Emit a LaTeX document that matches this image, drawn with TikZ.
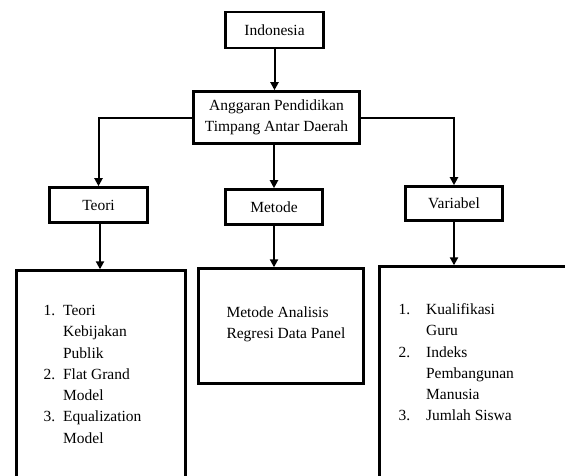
\documentclass[tikz,border=0pt]{standalone}
\usepackage{fontspec}
\setmainfont{Liberation Serif}
\usetikzlibrary{positioning,arrows.meta}

\begin{document}
\begin{tikzpicture}[
x=1pt,y=-1pt,
box/.style={rectangle,draw=black,line width=2.6pt,fill=white,align=center,inner sep=0pt,font=\fontsize{15.5}{21.3}\selectfont},
isi/.style={box,anchor=north west},
daftar/.style={align=left,inner sep=0pt,anchor=north west,font=\fontsize{15.5}{21.3}\selectfont},
arrow/.style={-{Triangle[length=8pt,width=8pt]},line width=2pt}
]
\useasboundingbox (0,0) rectangle (565,475);
\clip (0,0) rectangle (565,475);
\node[box,minimum width=98pt,minimum height=36pt] (indo) at (274.5,30) {Indonesia};
\node[box,minimum width=166pt,minimum height=52pt] (ang) at (276.5,117.5) {Anggaran Pendidikan\\Timpang Antar Daerah};
\node[box,minimum width=98pt,minimum height=35pt] (teori) at (98.5,205) {Teori};
\node[box,minimum width=97pt,minimum height=35pt] (metode) at (274,207) {Metode};
\node[box,minimum width=97pt,minimum height=34pt] (var) at (454,203.5) {Variabel};
\node[isi,minimum width=169pt,minimum height=230pt] (teoriisi) at (15.3,269.3) {};
\node[isi,minimum width=165pt,minimum height=115pt] (metodeisi) at (197.3,267.3) {};
\node[isi,minimum width=230pt,minimum height=230pt] (varisi) at (378.3,265.3) {};
\node[daftar,below right=31pt and 28pt of teoriisi.north west] (teorilist) {%
\begin{tabular}{@{}r@{\hspace{8pt}}l@{}}
1. & Teori\\ & Kebijakan\\ & Publik\\
2. & Flat Grand\\ & Model\\
3. & Equalization\\ & Model
\end{tabular}};
\node[daftar,below right=39pt and 29pt of metodeisi.north west] (metodelist) {Metode Analisis\\Regresi Data Panel};
\node[daftar,below right=34pt and 20pt of varisi.north west] (varlist) {%
\begin{tabular}{@{}r@{\hspace{16pt}}l@{}}
1. & Kualifikasi\\ & Guru\\
2. & Indeks\\ & Pembangunan\\ & Manusia\\
3. & Jumlah Siswa
\end{tabular}};
\draw[arrow] (indo) -- (indo |- ang.north);
\draw[arrow] (ang.west) -| (teori.north);
\draw[arrow] (ang.south -| metode) -- (metode);
\draw[arrow] (ang.east) -| (var.north);
\draw[arrow] ([xshift=1.5pt]teori.south) -- ([xshift=1.5pt]teori.south |- teoriisi.north);
\draw[arrow] (metode) -- (metode |- metodeisi.north);
\draw[arrow] (var) -- (var |- varisi.north);
\end{tikzpicture}
\end{document}
